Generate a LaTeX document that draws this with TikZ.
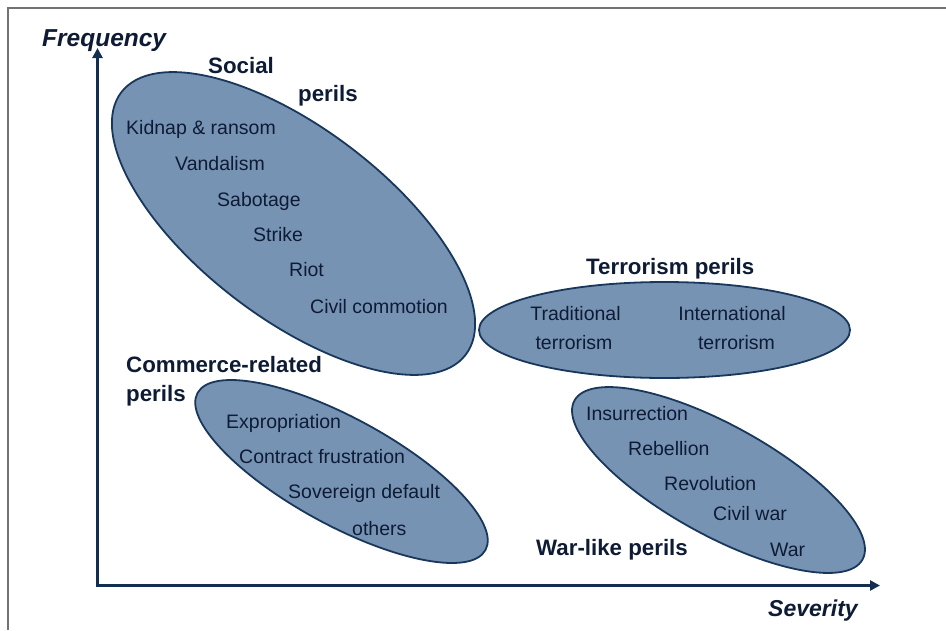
\documentclass[tikz,border=0pt]{standalone}
\usepackage{fontspec}
\setmainfont{Liberation Sans}
\usetikzlibrary{shapes.geometric,arrows.meta}
\definecolor{ellfill}{RGB}{119,147,180}
\definecolor{elldraw}{RGB}{24,55,90}
\definecolor{txt}{RGB}{14,27,52}
\definecolor{axiscol}{RGB}{18,46,80}
\tikzset{
  ell/.style={ellipse, draw=elldraw, fill=ellfill, line width=1.8pt, inner sep=0pt},
  item/.style={anchor=base west, inner sep=0pt, text=txt, font=\fontsize{19.5}{23}\selectfont},
  itemc/.style={anchor=base, inner sep=0pt, text=txt, font=\fontsize{19.5}{23}\selectfont},
  grouplabel/.style={anchor=base west, inner sep=0pt, text=txt, font=\bfseries\fontsize{22.3}{26}\selectfont},
  axislabel/.style={anchor=base west, inner sep=0pt, text=txt, font=\bfseries\itshape\fontsize{24.5}{28}\selectfont},
  axislabelb/.style={anchor=base west, inner sep=0pt, text=txt, font=\bfseries\itshape\fontsize{23}{28}\selectfont},
  axisline/.style={draw=axiscol, line width=3pt, line join=miter,
    {Triangle[length=10pt,width=10pt]}-{Triangle[length=10pt,width=10pt]}},
  framecol/.style={draw=black!55, line width=1.3pt}
}
\begin{document}
\begin{tikzpicture}[x=1pt,y=-1pt]
\useasboundingbox (0,0) rectangle (946,630);
% frame
\coordinate (f1) at (8,630);
\coordinate (f2) at (8,8);
\coordinate (f3) at (946,8);
\draw[framecol] (f1) -- (f2) -- (f3);

% ellipses
\node[ell, minimum width=433pt, minimum height=190pt, rotate=-37.3] (social) at (293.5,223.5) {};
\node[ell, minimum width=328pt, minimum height=107pt, rotate=-28.6] (commerce) at (341.5,471.5) {};
\node[ell, minimum width=371pt, minimum height=96pt] (terror) at (664.5,330) {};
\node[ell, minimum width=329pt, minimum height=110pt, rotate=-28.9] (war) at (718.5,480) {};

% axes
\coordinate (ytip) at (97.5,48);
\coordinate (origin) at (97.5,585.5);
\coordinate (xtip) at (880,585.5);
\draw[axisline] (ytip) -- (origin) -- (xtip);
\node[axislabel] (freq) at (42,46.5) {Frequency};
\node[axislabelb] (sev) at (768,616.5) {Severity};

% social
\node[grouplabel] (socl1) at (208,73) {Social};
\node[grouplabel] (socl2) at (298,101) {perils};
\node[item] (s1) at (126,134) {Kidnap \& ransom};
\node[item] (s2) at (175,170.5) {Vandalism};
\node[item] (s3) at (217,206) {Sabotage};
\node[item] (s4) at (253,241.5) {Strike};
\node[item] (s5) at (289,276.5) {Riot};
\node[item] (s6) at (310,313) {Civil commotion};

% commerce
\node[grouplabel] (coml1) at (126,372) {Commerce-related};
\node[grouplabel] (coml2) at (126,401) {perils};
\node[item] (c1) at (226,428) {Expropriation};
\node[item] (c2) at (239,463) {Contract frustration};
\node[item] (c3) at (288,498) {Sovereign default};
\node[item] (c4) at (352,535) {others};

% terrorism
\node[grouplabel] (terl) at (586,274) {Terrorism perils};
\node[itemc] (t1) at (575.5,320.5) {Traditional};
\node[itemc] (t2) at (574,349) {terrorism};
\node[itemc] (t3) at (732,320.5) {International};
\node[itemc] (t4) at (736.5,349) {terrorism};

% war
\node[grouplabel] (warl) at (536,555) {War-like perils};
\node[item] (w1) at (586,420.5) {Insurrection};
\node[item] (w2) at (628,455) {Rebellion};
\node[item] (w3) at (664,490) {Revolution};
\node[item] (w4) at (713,520.5) {Civil war};
\node[item] (w5) at (770,556) {War};
\end{tikzpicture}
\end{document}
